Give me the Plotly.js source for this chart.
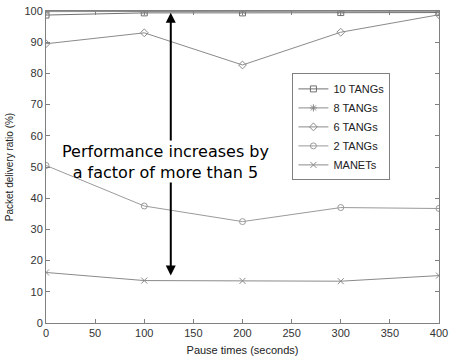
<!DOCTYPE html>
<html><head><meta charset="utf-8">
<script src="https://cdn.plot.ly/plotly-3.0.1.min.js"></script>
<style>html,body{margin:0;padding:0;background:#fff}#c{width:449px;height:360px}</style>
</head><body><div id="c"></div>
<script>
const pauseTimes = [0, 100, 200, 300, 400];
const tang10 = [98.7, 99.4, 99.4, 99.5, 99.5];
const tang8 = [99.8, 99.9, 99.9, 99.9, 99.9];
const tang6 = [89.5, 93.0, 82.7, 93.2, 98.8];
const tang2 = [50.5, 37.5, 32.5, 37.0, 36.7];
const manets = [16.2, 13.6, 13.5, 13.4, 15.2];
const seriesNames = ['10 TANGs', '8 TANGs', '6 TANGs', '2 TANGs', 'MANETs'];
const xTicks = [0, 50, 100, 150, 200, 250, 300, 350, 400];
const yTicks = [0, 10, 20, 30, 40, 50, 60, 70, 80, 90, 100];

const symbols = ['square-open', 'asterisk-open', 'diamond-open', 'circle-open', 'x-thin-open'];
const colors = ['#707070', '#8a8a8a', '#8a8a8a', '#9a9a9a', '#8a8a8a'];
const data = [tang10, tang8, tang6, tang2, manets].map((ys, i) => ({
  x: pauseTimes, y: ys, name: seriesNames[i], type: 'scatter', mode: 'lines+markers',
  line: {color: colors[i], width: 1},
  marker: {symbol: symbols[i], size: 6, color: colors[i], line: {color: colors[i], width: 1}}
}));

const axisCommon = {
  showgrid: false, zeroline: false, showline: true, mirror: 'ticks',
  linecolor: '#808080', linewidth: 1, ticks: 'inside', ticklen: 4, tickcolor: '#808080',
  ticklabeloverflow: 'allow',
  tickfont: {family: 'Liberation Sans, Arial, sans-serif', size: 11, color: '#333'}
};

const layout = {
  width: 449, height: 360,
  margin: {l: 46, r: 10, t: 11, b: 37},
  paper_bgcolor: '#fff', plot_bgcolor: '#fff',
  showlegend: true,
  legend: {x: 0.627, y: 0.8, xanchor: 'left', yanchor: 'top', bgcolor: '#fff',
    bordercolor: '#808080', borderwidth: 1, tracegroupgap: 0, itemwidth: 30,
    font: {family: 'Liberation Sans, Arial, sans-serif', size: 11, color: '#222'}},
  xaxis: Object.assign({}, axisCommon, {range: [0, 400], tickvals: xTicks,
    title: {text: 'Pause times (seconds)', standoff: 8,
      font: {family: 'Liberation Sans, Arial, sans-serif', size: 11, color: '#222'}}}),
  yaxis: Object.assign({}, axisCommon, {range: [0, 100], tickvals: yTicks,
    title: {text: 'Packet delivery ratio (%)', standoff: 8,
      font: {family: 'Liberation Sans, Arial, sans-serif', size: 10, color: '#222'}}}),
  annotations: [
    {x: 127, y: 99.4, ax: 127, ay: 58, xref: 'x', yref: 'y', axref: 'x', ayref: 'y',
     showarrow: true, arrowhead: 2, arrowsize: 1, arrowwidth: 2, arrowcolor: '#000', text: ''},
    {x: 127, y: 15.2, ax: 127, ay: 45.5, xref: 'x', yref: 'y', axref: 'x', ayref: 'y',
     showarrow: true, arrowhead: 2, arrowsize: 1, arrowwidth: 2, arrowcolor: '#000', text: ''},
    {x: 122, y: 51.6, xref: 'x', yref: 'y', showarrow: false,
     text: 'Performance increases by<br>a factor of more than 5',
     align: 'center', font: {family: 'DejaVu Sans, sans-serif', size: 16, color: '#000'}}
  ]
};

Plotly.newPlot('c', data, layout, {displayModeBar: false, staticPlot: true});
</script></body></html>
